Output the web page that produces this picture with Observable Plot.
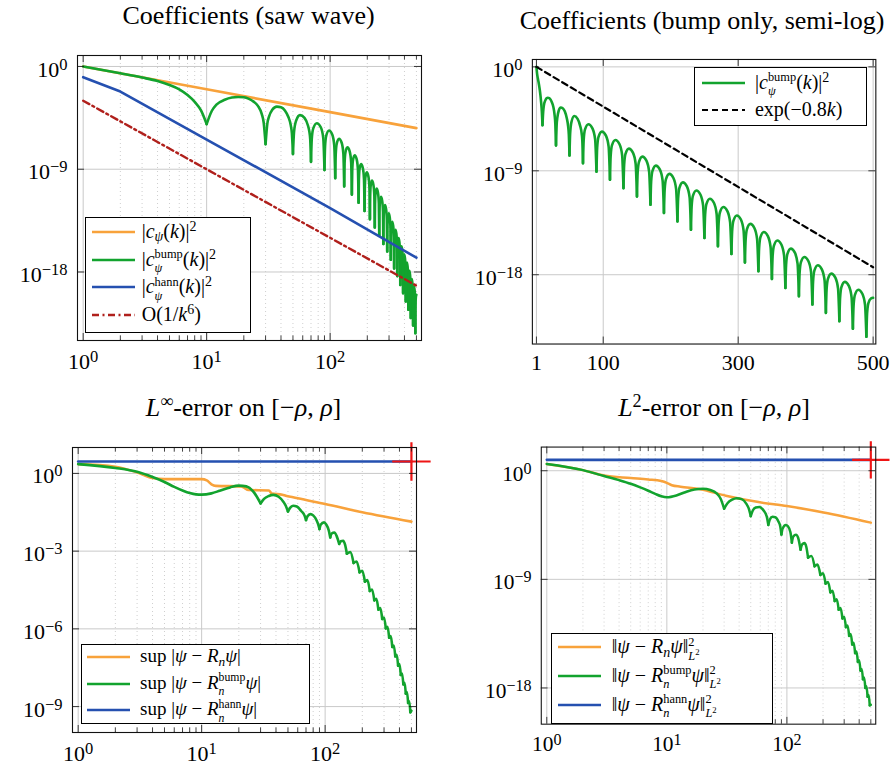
<!DOCTYPE html>
<html>
<head>
<meta charset="utf-8">
<title>Coefficient decay and reconstruction error</title>
<script src="https://cdn.jsdelivr.net/npm/d3@7"></script>
<script src="https://cdn.jsdelivr.net/npm/@observablehq/plot@0.6"></script>
<style>
  html, body { margin: 0; background: #fff; }
  #page { position: relative; width: 895px; height: 766px; overflow: hidden;
          font-family: "Liberation Serif", "Times New Roman", Times, "DejaVu Serif", serif; color: #000; }
  .panel { position: absolute; }
  .title { position: absolute; width: 520px; text-align: center; font-size: 26px;
           line-height: 26px; white-space: nowrap; }
  .legend { position: absolute; background: #fff; border: 1px solid #000;
            box-sizing: border-box; font-size: 20px; line-height: 20px; }
  .legend.small { font-size: 19px; }
  .row { position: absolute; left: 0; width: 100%; height: 0; white-space: nowrap; }
  .row svg { position: absolute; top: -3px; overflow: visible; }
  .row .lbl { position: absolute; top: -11.2px; line-height: 20px; }
  i { font-style: italic; }
  sup, sub { font-size: 0.7em; line-height: 0; position: relative; vertical-align: baseline; }
  sup { top: -0.5em; }
  sub { top: 0.28em; }
  /* stacked scripts: a superscript and a subscript sharing one column */
  .st { font-size: 0.62em; line-height: 0; position: relative; vertical-align: baseline; }
  .st.up { top: -0.61em; }
  .st.dn { top: 0.54em; }
  .zw { display: inline-block; width: 0; white-space: nowrap; }
</style>
</head>
<body>
<div id="page">
  <div class="title" style="left:-11.5px;top:3.2px">Coefficients (saw wave)</div>
  <div class="title" style="left:442px;top:7.5px">Coefficients (bump only, semi-log)</div>
  <div class="title" style="left:-16.5px;top:394.9px"><i>L</i><sup>∞</sup>-error on [−<i>ρ</i>, <i>ρ</i>]</div>
  <div class="title" style="left:454px;top:394.9px"><i>L</i><sup>2</sup>-error on [−<i>ρ</i>, <i>ρ</i>]</div>

  <div id="p1" class="panel" style="left:-2.7px;top:40px"></div>
  <div id="p2" class="panel" style="left:451.7px;top:44.3px"></div>
  <div id="p3" class="panel" style="left:-7.7px;top:431.7px"></div>
  <div id="p4" class="panel" style="left:463.3px;top:431.7px"></div>

  <div class="legend" style="left:85px;top:216.7px;width:166px;height:116px">
    <div class="row" style="top:14px"><svg width="43" height="6" style="left:5.7px"><line x1="0" y1="3" x2="43" y2="3" stroke="#f8a23b" stroke-width="2.6"/></svg>
      <span class="lbl" style="left:55.7px">|<i>c</i><sub><i>ψ</i></sub>(<i>k</i>)|<sup>2</sup></span></div>
    <div class="row" style="top:42.3px"><svg width="43" height="6" style="left:5.7px"><line x1="0" y1="3" x2="43" y2="3" stroke="#12a32e" stroke-width="2.6"/></svg>
      <span class="lbl" style="left:55.7px">|<i>c</i><span class="st dn zw"><i>ψ</i></span><span class="st up">bump</span>(<i>k</i>)|<sup>2</sup></span></div>
    <div class="row" style="top:69.6px"><svg width="43" height="6" style="left:5.7px"><line x1="0" y1="3" x2="43" y2="3" stroke="#2550b0" stroke-width="2.6"/></svg>
      <span class="lbl" style="left:55.7px">|<i>c</i><span class="st dn zw"><i>ψ</i></span><span class="st up">hann</span>(<i>k</i>)|<sup>2</sup></span></div>
    <div class="row" style="top:97.3px"><svg width="43" height="6" style="left:5.7px"><line x1="0" y1="3" x2="43" y2="3" stroke="#b0201c" stroke-width="2.4" stroke-dasharray="7,3.5,2,3.5"/></svg>
      <span class="lbl" style="left:55.7px">O(1/<i>k</i><sup>6</sup>)</span></div>
  </div>

  <div class="legend" style="left:694.3px;top:66.7px;width:173px;height:59px">
    <div class="row" style="top:15px"><svg width="43" height="6" style="left:6.4px"><line x1="0" y1="3" x2="43" y2="3" stroke="#12a32e" stroke-width="2.6"/></svg>
      <span class="lbl" style="left:59.7px">|<i>c</i><span class="st dn zw"><i>ψ</i></span><span class="st up">bump</span>(<i>k</i>)|<sup>2</sup></span></div>
    <div class="row" style="top:42.3px"><svg width="43" height="6" style="left:6.4px"><line x1="0" y1="3" x2="43" y2="3" stroke="#000" stroke-width="2.2" stroke-dasharray="6,4"/></svg>
      <span class="lbl" style="left:59.7px">exp(−0.8<i>k</i>)</span></div>
  </div>

  <div class="legend small" style="left:80.7px;top:644px;width:229.3px;height:80px">
    <div class="row" style="top:12px"><svg width="43" height="6" style="left:5px"><line x1="0" y1="3" x2="43" y2="3" stroke="#f8a23b" stroke-width="2.6"/></svg>
      <span class="lbl" style="left:58.3px">sup |<i>ψ</i> − <i>R</i><sub><i>n</i></sub><i>ψ</i>|</span></div>
    <div class="row" style="top:38.7px"><svg width="43" height="6" style="left:5px"><line x1="0" y1="3" x2="43" y2="3" stroke="#12a32e" stroke-width="2.6"/></svg>
      <span class="lbl" style="left:58.3px">sup |<i>ψ</i> − <i>R</i><span class="st dn zw"><i>n</i></span><span class="st up">bump</span><i>ψ</i>|</span></div>
    <div class="row" style="top:65.4px"><svg width="43" height="6" style="left:5px"><line x1="0" y1="3" x2="43" y2="3" stroke="#2550b0" stroke-width="2.6"/></svg>
      <span class="lbl" style="left:58.3px">sup |<i>ψ</i> − <i>R</i><span class="st dn zw"><i>n</i></span><span class="st up">hann</span><i>ψ</i>|</span></div>
  </div>

  <div class="legend" style="left:550.7px;top:632.7px;width:222.6px;height:91.3px">
    <div class="row" style="top:13.6px"><svg width="43" height="6" style="left:6px"><line x1="0" y1="3" x2="43" y2="3" stroke="#f8a23b" stroke-width="2.6"/></svg>
      <span class="lbl" style="left:60px">‖<i>ψ</i> − <i>R</i><sub><i>n</i></sub><i>ψ</i>‖<span class="st up zw">2</span><span class="st dn"><i>L</i><sup>2</sup></span></span></div>
    <div class="row" style="top:42.3px"><svg width="43" height="6" style="left:6px"><line x1="0" y1="3" x2="43" y2="3" stroke="#12a32e" stroke-width="2.6"/></svg>
      <span class="lbl" style="left:60px">‖<i>ψ</i> − <i>R</i><span class="st dn zw"><i>n</i></span><span class="st up">bump</span><i>ψ</i>‖<span class="st up zw">2</span><span class="st dn"><i>L</i><sup>2</sup></span></span></div>
    <div class="row" style="top:71.3px"><svg width="43" height="6" style="left:6px"><line x1="0" y1="3" x2="43" y2="3" stroke="#2550b0" stroke-width="2.6"/></svg>
      <span class="lbl" style="left:60px">‖<i>ψ</i> − <i>R</i><span class="st dn zw"><i>n</i></span><span class="st up">hann</span><i>ψ</i>‖<span class="st up zw">2</span><span class="st dn"><i>L</i><sup>2</sup></span></span></div>
  </div>
</div>

<script>
// ---------- data (values stored as log10 exponents) ----------

// saw-wave coefficients |c(k)|^2
const kSaw = [1, 10, 100, 500];
const sawLog = [0, -2, -4, -5.4];

// Hann-windowed coefficients
const kHann = [1, 2, 10, 100, 500];
const hannLog = [-0.94, -2.2, -6.4, -12.4, -16.75];

// O(1/k^6) reference line
const kRef6 = [1, 500];
const ref6Log = [-3.0, -19.2];

// exp(-0.8k) reference line (semi-log panel)
const kExpRef = [1, 500];
const expRefLog = [0, -17.35];

// bump-windowed coefficients (shared by both top panels)
const bumpK = [
  1, 2, 3, 4, 5, 6, 7, 8, 9, 10,
  11, 12, 14, 16, 18, 20, 22, 24, 26, 28, 29, 30,
  31, 32, 34, 37, 40, 43, 46, 48, 49, 50,
  51, 53, 57, 62, 66, 68, 69, 70,
  71, 73, 78, 84, 88, 90,
  91, 93, 98, 104, 108, 110,
  111, 113, 118, 124, 128, 130,
  131, 133, 138, 144, 148, 150,
  151, 153, 158, 164, 168, 170,
  171, 173, 178, 184, 188, 190,
  191, 193, 198, 204, 208, 210,
  211, 213, 218, 224, 228, 230,
  231, 233, 238, 244, 248, 250,
  251, 253, 258, 264, 268, 270,
  271, 273, 278, 284, 288, 290,
  291, 293, 298, 304, 308, 310,
  311, 313, 318, 324, 328, 330,
  331, 333, 338, 344, 348, 350,
  351, 353, 358, 364, 368, 370,
  371, 373, 378, 384, 388, 390,
  391, 393, 398, 404, 408, 410,
  411, 413, 418, 424, 428, 430,
  431, 433, 438, 444, 448, 450,
  451, 453, 458, 464, 468, 470,
  471, 473, 478, 484, 488, 490,
  491, 493, 497, 500
];
const bumpLog = [
  0, -0.6, -0.97, -1.27, -1.62, -2.0, -2.5, -3.1, -3.85, -5.05,
  -3.9, -3.35, -2.92, -2.72, -2.67, -2.7, -2.84, -3.08, -3.45, -4.2, -4.95, -6.8,
  -5.0, -4.4, -3.8, -3.52, -3.58, -3.85, -4.45, -5.15, -5.85, -7.67,
  -5.75, -4.75, -4.26, -4.5, -5.15, -5.75, -6.4, -8.35,
  -6.37, -5.42, -4.97, -5.32, -6.27, -9.07,
  -7.01, -6.06, -5.61, -5.96, -6.91, -9.78,
  -7.73, -6.78, -6.33, -6.68, -7.63, -10.5,
  -8.48, -7.53, -7.08, -7.43, -8.38, -11.22,
  -9.17, -8.22, -7.77, -8.12, -9.07, -11.94,
  -9.95, -9.0, -8.55, -8.9, -9.85, -12.66,
  -10.67, -9.72, -9.27, -9.62, -10.57, -13.38,
  -11.4, -10.45, -10.0, -10.35, -11.3, -14.1,
  -12.1, -11.15, -10.7, -11.05, -12.0, -14.82,
  -12.82, -11.87, -11.42, -11.77, -12.72, -15.54,
  -13.54, -12.59, -12.14, -12.49, -13.44, -16.2,
  -14.27, -13.32, -12.87, -13.22, -14.17, -16.93,
  -15.0, -14.05, -13.6, -13.95, -14.9, -17.7,
  -15.7, -14.75, -14.3, -14.65, -15.6, -18.36,
  -16.43, -15.48, -15.03, -15.38, -16.33, -19.14,
  -17.14, -16.19, -15.74, -16.09, -17.04, -19.86,
  -17.86, -16.91, -16.46, -16.81, -17.76, -20.58,
  -18.58, -17.63, -17.18, -17.53, -18.48, -21.3,
  -19.3, -18.35, -17.9, -18.25, -19.2, -22.02,
  -20.02, -19.07, -18.62, -18.97, -19.92, -22.68,
  -20.7, -19.75, -19.3, -19.65, -20.6, -23.37,
  -21.4, -20.45, -20.05, -20.0
];
// zeros of the bump coefficients (cusps of the curve)
const bumpZeros = [10, 30, 50, 70, 90, 110, 130, 150, 170, 190, 210, 230, 250,
                   270, 290, 310, 330, 350, 370, 390, 410, 430, 450, 470, 490];

// L-infinity error
const kSawInf = [1, 2, 3, 4, 5, 10, 11, 12, 13, 21, 22, 24, 35, 37, 45, 48, 55, 60, 100, 200, 500];
const sawInfLog = [0.36, 0.26, 0.04, -0.18, -0.22, -0.22, -0.27, -0.42, -0.48, -0.5, -0.55, -0.64,
                   -0.66, -0.78, -0.82, -0.86, -0.92, -0.96, -1.18, -1.5, -1.86];
const kBumpErr = [
  1, 2, 3, 4, 5, 6, 7, 8, 9, 10, 12, 14, 17, 20, 23, 26, 28, 30,
  32, 35, 38, 42, 46, 48, 50,
  52, 55, 59, 64, 68, 70,
  72, 76, 80, 85, 88, 90,
  92, 98, 102, 107, 110,
  113, 119, 124, 130,
  134, 140, 145, 150,
  160, 170, 180, 190, 200, 210, 220, 230, 240, 250,
  260, 270, 280, 290, 300, 310, 320, 330, 340, 350,
  360, 370, 380, 390, 400, 410, 420, 430, 440, 450,
  460, 470, 480, 490, 500
];
const bumpInfLog = [
  0.36, 0.21, 0.06, -0.14, -0.33, -0.52, -0.66, -0.76, -0.81, -0.82, -0.77, -0.67, -0.54, -0.47, -0.5, -0.68, -0.9, -1.16,
  -0.98, -0.87, -0.83, -0.9, -1.1, -1.25, -1.47,
  -1.33, -1.25, -1.28, -1.45, -1.62, -1.8,
  -1.65, -1.57, -1.62, -1.8, -1.98, -2.15,
  -1.98, -1.89, -1.97, -2.2, -2.47,
  -2.32, -2.28, -2.42, -2.72,
  -2.62, -2.6, -2.75, -3.1,
  -3.04, -3.46, -3.40, -3.82, -3.76, -4.18, -4.12, -4.54, -4.48, -4.90,
  -4.84, -5.26, -5.20, -5.62, -5.56, -5.98, -5.92, -6.34, -6.28, -6.70,
  -6.64, -7.06, -7.00, -7.42, -7.36, -7.78, -7.72, -8.14, -8.08, -8.50,
  -8.44, -8.86, -8.80, -9.22, -9.16
];
const kHannErr = [1, 500];
const hannInfLog = [0.46, 0.46];

// squared L2 error
const kSawL2 = [1, 2, 3, 5, 7, 9, 10, 11, 13, 19, 31, 58, 100, 202, 500];
const sawL2Log = [0.56, 0.05, -0.4, -0.6, -0.72, -0.85, -1.0, -1.2, -1.32, -1.53, -2.07, -2.6, -2.93, -3.46, -4.3];
const bumpL2Log = [
  0.56, 0.05, -0.44, -0.78, -1.08, -1.38, -1.66, -1.92, -2.12, -2.2, -2.05, -1.8, -1.55, -1.5, -1.6, -1.88, -2.3, -3.14,
  -2.7, -2.4, -2.28, -2.35, -2.75, -3.1, -3.76,
  -3.3, -3.05, -3.0, -3.3, -3.8, -4.49,
  -4.05, -3.82, -3.85, -4.2, -4.6, -5.29,
  -4.8, -4.5, -4.6, -5.1, -5.96,
  -5.45, -5.3, -5.55, -6.55,
  -6.1, -6.0, -6.3, -7.2,
  -7.06, -7.92, -7.78, -8.64, -8.5, -9.36, -9.22, -10.08, -9.94, -10.8,
  -10.66, -11.52, -11.38, -12.24, -12.1, -12.96, -12.82, -13.68, -13.54, -14.4,
  -14.26, -15.12, -14.98, -15.84, -15.7, -16.56, -16.42, -17.28, -17.14, -18.0,
  -17.86, -18.72, -18.58, -19.44, -19.4
];
const hannL2Log = [0.9, 0.9];
// cusps of the error curves
const errCusps = [30, 50, 70, 90, 110, 130, 150, 170, 190, 210, 230, 250, 270, 290,
                  310, 330, 350, 370, 390, 410, 430, 450, 470, 490];

// axis ticks
const logXMajor = [1, 10, 100];
const logXMinor = [2, 3, 4, 5, 6, 7, 8, 9, 20, 30, 40, 50, 60, 70, 80, 90, 200, 300, 400, 500];
const semiXTicks = [1, 100, 300, 500];
const yTicksCoef = [1, 1e-9, 1e-18];
const yTicksInf = [1, 1e-3, 1e-6, 1e-9];
const yTicksL2 = [1, 1e-9, 1e-18];

// ---------- helpers ----------
const COL = {orange: "#f8a23b", green: "#12a32e", blue: "#2550b0", darkred: "#b0201c", red: "#ee1515"};
const GRID = "#c9c9c9", INK = "#111";
const FONT = '"Liberation Serif", "Times New Roman", Times, "DejaVu Serif", serif';
const FW = 344, FH = 285, ML = 80, MR = 20, MT = 15, MB = 45;
const LW = 2.6;

const rows = (ks, logs) => ks.map((k, i) => ({k, v: 10 ** logs[i]}));
// split a series into arcs that meet at the given cusp abscissae
function arcs(ks, logs, cusps) {
  const out = [];
  let seg = 0;
  ks.forEach((k, i) => {
    const v = 10 ** logs[i];
    out.push({k, v, seg});
    if (cusps.includes(k) && i > 0 && i < ks.length - 1) { seg++; out.push({k, v, seg}); }
  });
  return out;
}
const pow10 = v => {
  const e = Math.round(Math.log10(v));
  return "10^" + (e < 0 ? "\u2212" + (-e) : String(e));
};
// turn "10^e" labels into a base with a raised exponent
function raiseExponents(svg) {
  d3.select(svg).selectAll('[aria-label$="tick label"] text').each(function () {
    const s = this.textContent;
    const i = s.indexOf("^");
    if (i < 0) return;
    const t = d3.select(this).text(s.slice(0, i));
    t.append("tspan").attr("dy", -7).attr("font-size", 16.5).text(s.slice(i + 1));
  });
}

function panel({x, y, xMajor, xMinor = [], yMajor, xFormat = pow10, xPad = 12.4, marks}) {
  const svg = Plot.plot({
    width: FW + ML + MR, height: FH + MT + MB,
    marginLeft: ML, marginRight: MR, marginTop: MT, marginBottom: MB,
    x, y,
    style: {fontFamily: FONT, fontSize: "22px", background: "transparent",
            overflow: "visible", color: "#000"},
    marks: [
      Plot.ruleX(xMinor, {stroke: GRID, strokeWidth: 0.9, strokeDasharray: "1,3"}),
      Plot.ruleX(xMajor, {stroke: GRID, strokeWidth: 1}),
      Plot.ruleY(yMajor, {stroke: GRID, strokeWidth: 1}),
      ...marks,
      Plot.ruleX(xMinor, {stroke: INK, strokeWidth: 0.8, insetBottom: FH - 4.5}),
      Plot.ruleX(xMinor, {stroke: INK, strokeWidth: 0.8, insetTop: FH - 4.5}),
      Plot.ruleX(xMajor, {stroke: INK, strokeWidth: 0.8, insetBottom: FH - 7}),
      Plot.ruleX(xMajor, {stroke: INK, strokeWidth: 0.8, insetTop: FH - 7}),
      Plot.ruleY(yMajor, {stroke: INK, strokeWidth: 0.8, insetRight: FW - 7}),
      Plot.ruleY(yMajor, {stroke: INK, strokeWidth: 0.8, insetLeft: FW - 7}),
      Plot.frame({stroke: INK, strokeWidth: 1.1}),
      Plot.axisX(xMajor, {anchor: "bottom", tickSize: 0, tickPadding: xPad, tickFormat: xFormat, label: null}),
      Plot.axisY(yMajor, {anchor: "left", tickSize: 0, tickPadding: 10, tickFormat: pow10, label: null, dy: 3})
    ]
  });
  raiseExponents(svg);
  return svg;
}

const logX = {type: "log", domain: [10 ** -0.046, 10 ** 2.74]};
const line = (data, color, extra = {}) =>
  Plot.line(data, {x: "k", y: "v", stroke: color, strokeWidth: LW, ...extra});

// ---------- top left: coefficients, log-log ----------
document.getElementById("p1").append(panel({
  x: logX,
  y: {type: "log", domain: [1e-24, 10 ** 0.96]},
  xMajor: logXMajor, xMinor: logXMinor, yMajor: yTicksCoef,
  marks: [
    line(rows(kSaw, sawLog), COL.orange),
    line(arcs(bumpK, bumpLog, bumpZeros), COL.green, {z: "seg", curve: "monotone-x"}),
    line(rows(kHann, hannLog), COL.blue),
    line(rows(kRef6, ref6Log), COL.darkred, {strokeWidth: 2.4, strokeDasharray: "7,3.5,2,3.5"})
  ]
}));

// ---------- top right: bump coefficients, semi-log ----------
document.getElementById("p2").append(panel({
  x: {type: "linear", domain: [-5, 504]},
  y: {type: "log", domain: [1e-24, 10 ** 0.64]},
  xMajor: semiXTicks, yMajor: yTicksCoef,
  xFormat: d => String(d), xPad: 10,
  marks: [
    line(arcs(bumpK, bumpLog, bumpZeros), COL.green, {z: "seg", curve: "monotone-x"}),
    line(rows(kExpRef, expRefLog), "#000", {strokeWidth: 2.2, strokeDasharray: "6,4"})
  ]
}));

// ---------- bottom left: L-infinity error ----------
const hannInf = rows(kHannErr, hannInfLog);
document.getElementById("p3").append(panel({
  x: logX,
  y: {type: "log", domain: [1e-10, 10 ** 1.0]},
  xMajor: logXMajor, xMinor: logXMinor, yMajor: yTicksInf,
  marks: [
    line(rows(kSawInf, sawInfLog), COL.orange, {curve: "monotone-x"}),
    line(arcs(kBumpErr, bumpInfLog, errCusps), COL.green, {z: "seg", curve: "monotone-x"}),
    line(hannInf, COL.blue),
    Plot.dot(hannInf.slice(-1), {x: "k", y: "v", symbol: "plus", r: 12.4, stroke: COL.red, strokeWidth: 2.2})
  ]
}));

// ---------- bottom right: squared L2 error ----------
const hannL2 = rows(kHannErr, hannL2Log);
document.getElementById("p4").append(panel({
  x: logX,
  y: {type: "log", domain: [1e-21, 10 ** 1.96]},
  xMajor: logXMajor, xMinor: logXMinor, yMajor: yTicksL2,
  marks: [
    line(rows(kSawL2, sawL2Log), COL.orange, {curve: "monotone-x"}),
    line(arcs(kBumpErr, bumpL2Log, errCusps), COL.green, {z: "seg", curve: "monotone-x"}),
    line(hannL2, COL.blue),
    Plot.dot(hannL2.slice(-1), {x: "k", y: "v", symbol: "plus", r: 12.4, stroke: COL.red, strokeWidth: 2.2})
  ]
}));
</script>
</body>
</html>
